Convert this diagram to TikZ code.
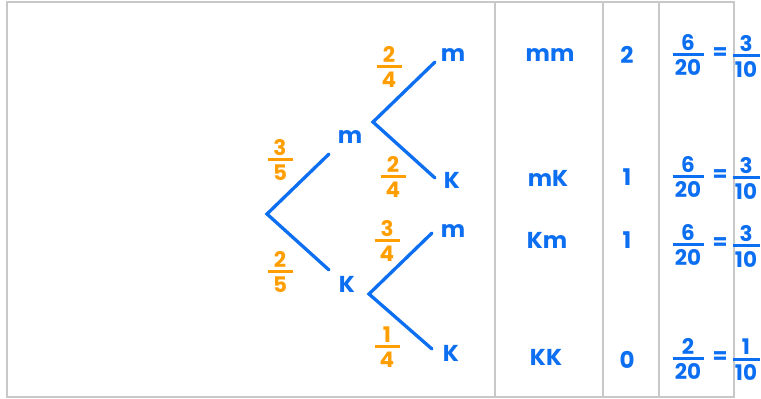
\documentclass[tikz,border=0pt]{standalone}
\usepackage{fontspec}
\setmainfont{Poppins}
\definecolor{treeblue}{RGB}{12,110,240}
\definecolor{probor}{RGB}{255,158,0}
\definecolor{gridgray}{RGB}{200,200,200}
\newcommand\fr[3]{$\vcenter{\hbox{\vbox{\offinterlineskip\halign{\hfil##\hfil\cr #2\cr\noalign{\kern3pt}\rule{#1}{2.8pt}\cr\noalign{\kern4pt}#3\cr}}}}$}
\begin{document}
\begin{tikzpicture}[x=1pt,y=-1pt,
  branch/.style={draw=treeblue, line width=3.3pt, line cap=round},
  lbl/.style={text=treeblue, font=\bfseries\fontsize{23}{23}\selectfont, inner sep=0pt},
  prob/.style={text=probor, font=\bfseries\fontsize{21.5}{21.5}\selectfont, inner sep=0pt},
  tprob/.style={text=treeblue, font=\bfseries\fontsize{21.5}{21.5}\selectfont, inner sep=0pt},
  gridline/.style={draw=gridgray, line width=2pt}]
\useasboundingbox (0,0) rectangle (761,399);
% table grid
\draw[gridline] (7,2) rectangle (734,397);
\draw[gridline] (495,2) -- (495,397);
\draw[gridline] (603,2) -- (603,397);
\draw[gridline] (659,2) -- (659,397);
% tree coordinates
\coordinate (root) at (267,214);
\coordinate (u) at (329,154);
\coordinate (d) at (329,270);
\coordinate (uj) at (373,122);
\coordinate (uu) at (435,62);
\coordinate (ud) at (435,178);
\coordinate (dj) at (369,294);
\coordinate (du) at (432,233);
\coordinate (dd) at (432,349);
\draw[branch] (u) -- (root) -- (d);
\draw[branch] (uu) -- (uj) -- (ud);
\draw[branch] (du) -- (dj) -- (dd);
% tree labels
\node[lbl] (lm) at (350,137) {m};
\node[lbl] (lk) at (347,284) {K};
\node[lbl] (lmm) at (453,55) {m};
\node[lbl] (lmk) at (452,180) {K};
\node[lbl] (lkm) at (453,231) {m};
\node[lbl] (lkk) at (451,353) {K};
% branch probabilities
\node[prob] (p35) at (280,160) {\fr{25pt}{3}{5}};
\node[prob] (p25) at (280,272) {\fr{25pt}{2}{5}};
\node[prob] (p24a) at (389,67) {\fr{25pt}{2}{4}};
\node[prob] (p24b) at (393,177) {\fr{25pt}{2}{4}};
\node[prob] (p34) at (387,241) {\fr{25pt}{3}{4}};
\node[prob] (p14) at (387,347) {\fr{25pt}{1}{4}};
% table: outcomes
\node[lbl] (o1) at (550,55) {mm};
\node[lbl] (o2) at (548,178) {mK};
\node[lbl] (o3) at (547,240) {Km};
\node[lbl] (o4) at (546,357) {KK};
% table: counts
\node[lbl] (c1) at (627,55) {2};
\node[lbl] (c2) at (627,177) {1};
\node[lbl] (c3) at (627,240) {1};
\node[lbl] (c4) at (627,360) {0};
% table: probabilities
\node[tprob] (f1a) at (688,55) {\fr{31pt}{6}{20}};
\node[tprob] (e1) at (720,54) {=};
\node[tprob] (f1b) at (746,56) {\fr{27pt}{3}{10}};
\node[tprob] (f2a) at (688,177) {\fr{31pt}{6}{20}};
\node[tprob] (e2) at (720,176) {=};
\node[tprob] (f2b) at (746,178) {\fr{27pt}{3}{10}};
\node[tprob] (f3a) at (688,245) {\fr{31pt}{6}{20}};
\node[tprob] (e3) at (720,244) {=};
\node[tprob] (f3b) at (746,246) {\fr{27pt}{3}{10}};
\node[tprob] (f4a) at (688,359) {\fr{31pt}{2}{20}};
\node[tprob] (e4) at (720,358) {=};
\node[tprob] (f4b) at (746,360) {\fr{27pt}{1}{10}};
\end{tikzpicture}
\end{document}
